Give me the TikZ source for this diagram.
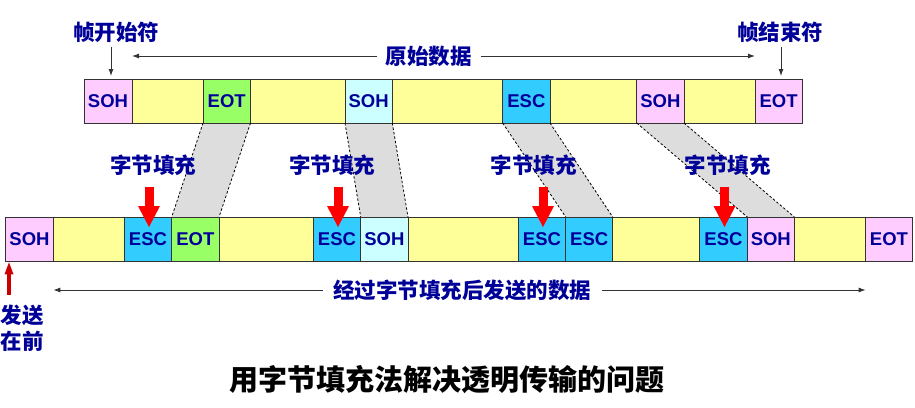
\documentclass[tikz,border=0pt]{standalone}
\usepackage{fontspec}
\setmainfont{Liberation Sans}
\newfontfamily\cjk{Noto Sans CJK SC}
\usetikzlibrary{arrows.meta,calc}
\pgfdeclarelayer{background}
\pgfsetlayers{background,main}
\definecolor{navy}{RGB}{0,0,153}
\definecolor{cpink}{HTML}{FFCCFF}
\definecolor{cyel}{HTML}{FFFF99}
\definecolor{cgreen}{HTML}{99FF66}
\definecolor{ccyan}{HTML}{CCFFFF}
\definecolor{cesc}{HTML}{33CCFF}
\definecolor{cgray}{HTML}{DDDDDD}
\definecolor{boxline}{HTML}{333333}
\definecolor{tline}{HTML}{333333}
\definecolor{dred}{HTML}{CC0000}
\tikzset{
  cell/.style={draw=boxline, line width=1pt, minimum height=44pt, inner sep=0pt, outer sep=0pt,
    anchor=west, text=navy, font=\bfseries\fontsize{18.5}{20}\selectfont},
  blab/.style={text=navy, inner sep=0pt, font=\cjk\bfseries\fontsize{21.5}{25.7}\selectfont},
  ttl/.style={text=black, inner sep=0pt, font=\cjk\bfseries\fontsize{29}{32}\selectfont},
  tarr/.style={draw=tline, line width=0.9pt, -{Latex[length=7pt,width=5pt]}},
  bigarr/.style={draw=red, line width=9pt, -{Triangle[width=22pt,length=21pt,line width=0pt]}},
  smallarr/.style={draw=dred, line width=3.5pt, -{Triangle[width=9pt,length=12pt,line width=0pt]}},
  dsh/.style={draw=black, line width=0.8pt, dash pattern=on 2.5pt off 2pt},
  gfill/.style={fill=cgray}
}
\begin{document}
\begin{tikzpicture}[x=1pt,y=-1pt]
\useasboundingbox (0,0) rectangle (915,407);
% top row
\node[cell, fill=cpink,  minimum width=48pt]   (t1)  at (84,101) {SOH};
\node[cell, fill=cyel,   minimum width=71pt]   (t2)  at (t1.east) {};
\node[cell, fill=cgreen, minimum width=47.5pt] (t3)  at (t2.east) {EOT};
\node[cell, fill=cyel,   minimum width=94.5pt] (t4)  at (t3.east) {};
\node[cell, fill=ccyan,  minimum width=47.3pt] (t5)  at (t4.east) {SOH};
\node[cell, fill=cyel,   minimum width=110.4pt](t6)  at (t5.east) {};
\node[cell, fill=cesc,   minimum width=47.3pt] (t7)  at (t6.east) {ESC};
\node[cell, fill=cyel,   minimum width=86.7pt] (t8)  at (t7.east) {};
\node[cell, fill=cpink,  minimum width=47.3pt] (t9)  at (t8.east) {SOH};
\node[cell, fill=cyel,   minimum width=71pt]   (t10) at (t9.east) {};
\node[cell, fill=cpink,  minimum width=47.3pt] (t11) at (t10.east) {EOT};
% bottom row
\node[cell, fill=cpink,  minimum width=47.6pt] (b1)  at (5.7,239) {SOH};
\node[cell, fill=cyel,   minimum width=71pt]   (b2)  at (b1.east) {};
\node[cell, fill=cesc,   minimum width=47.4pt] (b3)  at (b2.east) {ESC};
\node[cell, fill=cgreen, minimum width=47.3pt] (b4)  at (b3.east) {EOT};
\node[cell, fill=cyel,   minimum width=94.3pt] (b5)  at (b4.east) {};
\node[cell, fill=cesc,   minimum width=47.4pt] (b6)  at (b5.east) {ESC};
\node[cell, fill=ccyan,  minimum width=47.3pt] (b7)  at (b6.east) {SOH};
\node[cell, fill=cyel,   minimum width=110.3pt](b8)  at (b7.east) {};
\node[cell, fill=cesc,   minimum width=47.4pt] (b9)  at (b8.east) {ESC};
\node[cell, fill=cesc,   minimum width=47pt]   (b10) at (b9.east) {ESC};
\node[cell, fill=cyel,   minimum width=87pt]   (b11) at (b10.east) {};
\node[cell, fill=cesc,   minimum width=47.6pt] (b12) at (b11.east) {ESC};
\node[cell, fill=cpink,  minimum width=47pt]   (b13) at (b12.east) {SOH};
\node[cell, fill=cyel,   minimum width=71.4pt] (b14) at (b13.east) {};
\node[cell, fill=cpink,  minimum width=46.6pt] (b15) at (b14.east) {EOT};
% trapezoids
\begin{pgfonlayer}{background}
\foreach \u/\v in {t3/b4, t5/b7, t7/b10, t9/b13}{
  \fill[gfill] (\u.south west) -- (\u.south east) -- (\v.north east) -- (\v.north west) -- cycle;
}
\end{pgfonlayer}
\foreach \u/\v in {t3/b4, t5/b7, t7/b10, t9/b13}{
  \draw[dsh] (\u.south west) -- (\v.north west) (\u.south east) -- (\v.north east);
}
% labels
\node[blab] (ls) at (116,32) {帧开始符};
\node[blab] (le) at (780,32) {帧结束符};
\node[blab] (od) at (428.5,56) {原始数据};
\node[blab] (f1) at (153,165) {字节填充};
\node[blab] (f2) at (332,165) {字节填充};
\node[blab] (f3) at (533.7,165) {字节填充};
\node[blab] (f4) at (727.7,165) {字节填充};
\node[blab] (sd) at (462,290) {经过字节填充后发送的数据};
\node[blab, align=left] (fq) at (22.5,328) {发送\\在前};
\node[ttl] (tt) at (447,380) {用字节填充法解决透明传输的问题};
% thin arrows
\draw[tarr] ($(t1.north)+(3,-32)$) -- ($(t1.north)+(3,-3)$);
\draw[tarr] ($(t11.north)+(2.35,-32)$) -- ($(t11.north)+(2.35,-3)$);
\draw[tarr] ([xshift=-8pt]od.west) -- (od.west -| t1.east);
\draw[tarr] ([xshift=9pt]od.east) -- (od.east -| t11.west);
\draw[tarr] ([xshift=-10pt]sd.west) -- (sd.west -| b1.east);
\draw[tarr] ([xshift=11pt]sd.east) -- (sd.east -| b15.west);
% red arrows
\foreach \b in {b3,b6,b9,b12}{
  \draw[bigarr] ($(\b.north)+(1,-30.3)$) -- ($(\b.north)+(1,10)$);
}
\draw[smallarr] ($(b1.south west)+(3.3,34)$) -- ($(b1.south west)+(3.3,1.3)$);
\end{tikzpicture}
\end{document}
